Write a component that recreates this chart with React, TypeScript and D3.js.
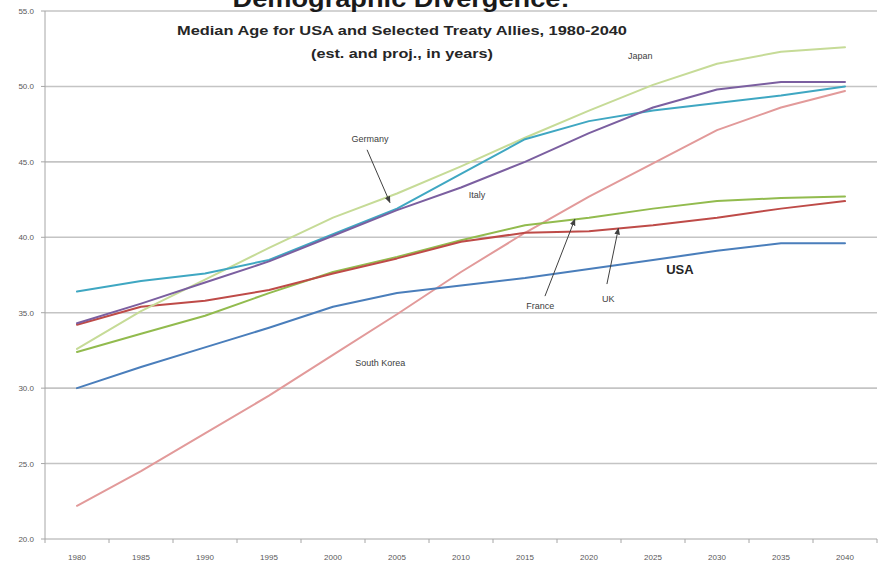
import React from "react";
import * as d3 from "d3";

const years = [1980, 1985, 1990, 1995, 2000, 2005, 2010, 2015, 2020, 2025, 2030, 2035, 2040];
const yTicks = [20, 25, 30, 35, 40, 45, 50, 55];

const usa = [30.0, 31.4, 32.7, 34.0, 35.4, 36.3, 36.8, 37.3, 37.9, 38.5, 39.1, 39.6, 39.6];
const southKorea = [22.2, 24.5, 27.0, 29.5, 32.2, 34.9, 37.7, 40.3, 42.7, 44.9, 47.1, 48.6, 49.7];
const japan = [32.6, 35.1, 37.2, 39.3, 41.3, 42.9, 44.7, 46.6, 48.4, 50.1, 51.5, 52.3, 52.6];
const germany = [36.4, 37.1, 37.6, 38.5, 40.2, 41.9, 44.2, 46.5, 47.7, 48.4, 48.9, 49.4, 50.0];
const italy = [34.3, 35.6, 37.0, 38.4, 40.1, 41.8, 43.3, 45.0, 46.9, 48.6, 49.8, 50.3, 50.3];
const france = [32.4, 33.6, 34.8, 36.3, 37.7, 38.7, 39.8, 40.8, 41.3, 41.9, 42.4, 42.6, 42.7];
const uk = [34.2, 35.4, 35.8, 36.5, 37.6, 38.6, 39.7, 40.3, 40.4, 40.8, 41.3, 41.9, 42.4];

const seriesNames = ["South Korea", "USA", "France", "UK", "Japan", "Germany", "Italy"];
const seriesValues = [southKorea, usa, france, uk, japan, germany, italy];
const seriesColors = ["#E29A9A", "#4A7EBB", "#92BB4E", "#BE4B48", "#C6DB97", "#3FA7C2", "#7B5FA0"];

// annotations in data space: [text, year, value, bold]
const labels: [string, number, number, boolean][] = [
  ["Japan", 2024.0, 51.95, false],
  ["Germany", 2002.9, 46.5, false],
  ["Italy", 2011.25, 42.75, false],
  ["France", 2016.2, 35.4, false],
  ["UK", 2021.5, 35.9, false],
  ["USA", 2027.1, 37.8, true],
  ["South Korea", 2003.7, 31.6, false],
];
// arrows: [fromYear, fromValue, toYear, toValue]
const arrows: [number, number, number, number][] = [
  [2002.66, 45.8, 2004.45, 42.3],
  [2016.56, 36.1, 2018.9, 41.2],
  [2021.4, 36.9, 2022.3, 40.6],
];

export default function App() {
  const W = 879;
  const H = 565;
  const left = 45;
  const right = 877;
  const top = 11;
  const bottom = 539;

  const x = d3.scalePoint<number>().domain(years).range([left, right]).padding(0.5);
  const xLin = d3
    .scaleLinear()
    .domain([years[0], years[years.length - 1]])
    .range([x(years[0]) as number, x(years[years.length - 1]) as number]);
  const y = d3.scaleLinear().domain([20, 55]).range([bottom, top]);
  const step = x.step();

  const line = d3
    .line<number>()
    .x((_, i) => x(years[i]) as number)
    .y((d) => y(d));

  const tickBounds = d3.range(years.length + 1).map((i) => left + i * step);

  return (
    <svg
      width={W}
      height={H}
      style={{ position: "absolute", left: 0, top: 0, background: "#fff" }}
      fontFamily="'Liberation Sans', Arial, sans-serif"
    >
      <defs>
        <marker id="ah" viewBox="0 0 10 10" refX="9" refY="5" markerWidth="7" markerHeight="7" orient="auto">
          <path d="M0,1 L10,5 L0,9 z" fill="#404040" />
        </marker>
      </defs>
      <rect x={0} y={0} width={W} height={H} fill="#fff" />
      {/* gridlines */}
      {yTicks.slice(1).map((t) => (
        <line key={t} x1={left} x2={right} y1={y(t)} y2={y(t)} stroke="#c4c4c4" strokeWidth={1.6} />
      ))}
      {/* axes */}
      <line x1={left} x2={left} y1={top} y2={bottom} stroke="#a6a6a6" strokeWidth={1} />
      <line x1={left} x2={right} y1={bottom} y2={bottom} stroke="#a6a6a6" strokeWidth={1} />
      {yTicks.map((t) => (
        <g key={t}>
          <line x1={left - 4} x2={left} y1={y(t)} y2={y(t)} stroke="#a6a6a6" />
          <text x={34} y={y(t) + 3} fontSize={8} fill="#595959" textAnchor="end">
            {t.toFixed(1)}
          </text>
        </g>
      ))}
      {tickBounds.map((b, i) => (
        <line key={i} x1={b} x2={b} y1={bottom} y2={bottom + 4} stroke="#a6a6a6" />
      ))}
      {years.map((yr) => (
        <text key={yr} x={x(yr)} y={560} fontSize={8} fill="#595959" textAnchor="middle">
          {yr}
        </text>
      ))}
      {/* series */}
      {seriesValues.map((vals, i) => (
        <path
          key={seriesNames[i]}
          d={line(vals) || ""}
          fill="none"
          stroke={seriesColors[i]}
          strokeWidth={2}
          strokeLinejoin="round"
          strokeLinecap="round"
        />
      ))}
      {/* arrows */}
      {arrows.map((a, i) => (
        <line
          key={i}
          x1={xLin(a[0])}
          y1={y(a[1])}
          x2={xLin(a[2])}
          y2={y(a[3])}
          stroke="#404040"
          strokeWidth={1}
          markerEnd="url(#ah)"
        />
      ))}
      {/* labels */}
      {labels.map(([t, yr, v, b]) => (
        <text
          key={t}
          x={xLin(yr)}
          y={y(v)}
          fontSize={b ? 13 : 9}
          fontWeight={b ? "bold" : "normal"}
          fill={b ? "#262626" : "#404040"}
          textAnchor="middle"
          dominantBaseline="middle"
        >
          {t}
        </text>
      ))}
      {/* titles */}
      <text x={401} y={7} fontSize={24} fontWeight="bold" fill="#1a1a1a" textAnchor="middle" textLength={337} lengthAdjust="spacingAndGlyphs">
        Demographic Divergence:
      </text>
      <text x={402} y={35} fontSize={12.5} fontWeight="bold" fill="#262626" textAnchor="middle" textLength={450} lengthAdjust="spacingAndGlyphs">
        Median Age for USA and Selected Treaty Allies, 1980-2040
      </text>
      <text x={402} y={58} fontSize={12.5} fontWeight="bold" fill="#262626" textAnchor="middle" textLength={182} lengthAdjust="spacingAndGlyphs">
        (est. and proj., in years)
      </text>
    </svg>
  );
}
